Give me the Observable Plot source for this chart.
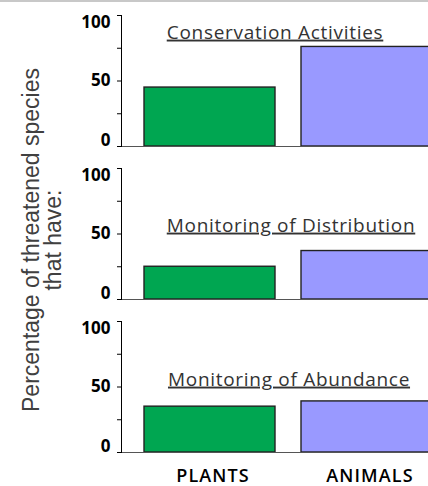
<!DOCTYPE html>
<html><head><meta charset="utf-8">
<script src="https://cdn.jsdelivr.net/npm/d3@7"></script>
<script src="https://cdn.jsdelivr.net/npm/@observablehq/plot@0.6"></script>
<style>
body{margin:0;overflow:hidden;background:#fff;}
#wrap{position:relative;width:428px;height:486px;overflow:hidden;background:#fff;}
#chart{position:absolute;left:0;top:0;}
#topline{position:absolute;left:0;top:0;width:428px;height:2px;background:#c8c8c8;}
#ylabel{position:absolute;left:-157px;top:217px;width:400px;height:46px;text-align:center;
  font-family:"Liberation Sans",Arial,sans-serif;font-size:23px;line-height:22px;color:#404040;
  transform:rotate(-90deg);white-space:nowrap;}
#chart g[aria-label="text"] text{text-decoration:underline;letter-spacing:0.7px;}
#chart g[aria-label="x-axis tick label"] text{letter-spacing:1.1px;}
</style></head>
<body>
<div id="wrap"><div id="chart"></div><div id="topline"></div>
<div id="ylabel">Percentage of threatened species<br>that have:</div></div>
<script>
const panels = ["Conservation Activities", "Monitoring of Distribution", "Monitoring of Abundance"];
const groups = ["PLANTS", "ANIMALS"];
const plantValues = [45, 25, 35];
const animalValues = [76, 37, 39];
const yTicks = [0, 25, 50, 75, 100];

const table = panels.flatMap((p, i) => [
  {panel: p, group: groups[0], value: plantValues[i]},
  {panel: p, group: groups[1], value: animalValues[i]}
]);

const titleStyle = {fontSize: 19, fill: "#333", lineAnchor: "middle", textAnchor: "middle"};

const chart = Plot.plot({
  width: 428,
  height: 486,
  marginLeft: 121,
  marginRight: 0,
  marginTop: 14,
  marginBottom: 34,
  style: {fontFamily: "'Open Sans', Lato, sans-serif", fontSize: "17px", color: "#000", background: "#fff", overflow: "hidden"},
  fy: {domain: panels, axis: null, paddingInner: 0.1466, paddingOuter: 0, label: null},
  x: {domain: groups, range: [121, 455], paddingInner: 26 / 157, paddingOuter: 23 / 157, axis: null, label: null},
  y: {domain: [0, 100], axis: null, label: null},
  color: {domain: groups, range: ["#00a651", "#9999ff"]},
  marks: [
    Plot.barY(table, {x: "group", y: "value", fy: "panel", fill: "group", stroke: "#222", strokeWidth: 1.4}),
    Plot.ruleY([0], {stroke: "#555", strokeWidth: 1}),
    Plot.frame({anchor: "left", stroke: "#000", strokeWidth: 1}),
    Plot.axisY({ticks: yTicks, tickSize: 4, tickFormat: () => "", label: null}),
    Plot.axisY({ticks: [50], tickSize: 0, tickPadding: 11, fontWeight: "bold", fontSize: 17, label: null}),
    Plot.axisY({ticks: [100], tickSize: 0, tickPadding: 11, dy: 7, fontWeight: "bold", fontSize: 17, label: null}),
    Plot.axisY({ticks: [0], tickSize: 0, tickPadding: 11, dy: -6, fontWeight: "bold", fontSize: 17, label: null}),
    Plot.axisX({tickSize: 0, tickPadding: 17, dx: 3, fontWeight: 600, fontSize: 18, label: null}),
    Plot.text([panels[0]], {fy: d => d, text: d => d, frameAnchor: "top", dy: 17, ...titleStyle}),
    Plot.text([panels[1]], {fy: d => d, text: d => d, frameAnchor: "top", dx: 16, dy: 57, ...titleStyle}),
    Plot.text([panels[2]], {fy: d => d, text: d => d, frameAnchor: "top", dx: 14, dy: 58, ...titleStyle})
  ]
});
document.getElementById("chart").appendChild(chart);
</script>
</body></html>
